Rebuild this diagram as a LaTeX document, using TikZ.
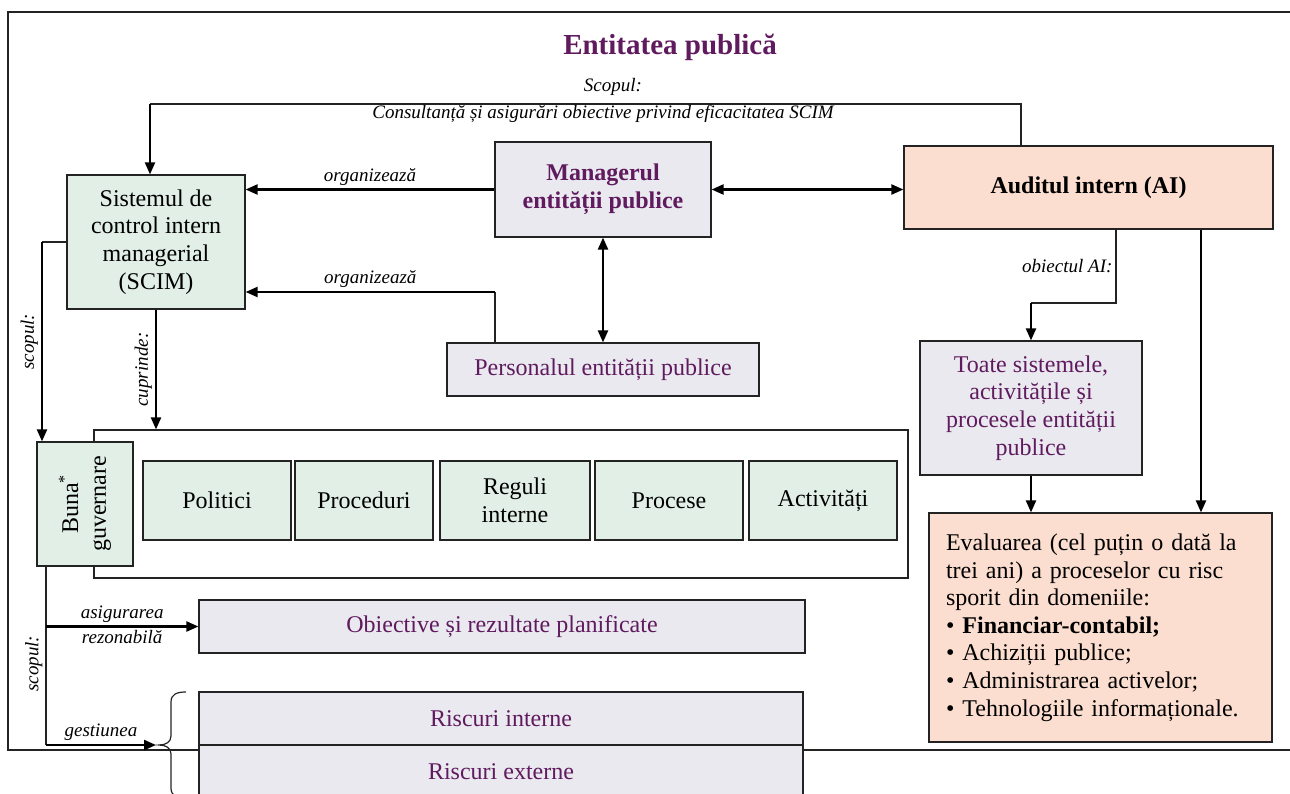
\documentclass[tikz,border=0pt]{standalone}
\usepackage{fontspec}
\setmainfont{Liberation Serif}
\usetikzlibrary{arrows.meta}

\definecolor{purpletxt}{RGB}{96,26,94}
\definecolor{greenfill}{RGB}{225,239,230}
\definecolor{greyfill}{RGB}{233,233,239}
\definecolor{peachfill}{RGB}{251,222,207}
\definecolor{edge}{RGB}{35,35,35}

\tikzset{every picture/.style={line width=0.5pt}}
\tikzset{
  box/.style={draw=edge, line width=0.6pt, inner sep=2pt, align=center, font=\fontsize{12}{13.8}\selectfont},
  greenbox/.style={box, fill=greenfill},
  greybox/.style={box, fill=greyfill, text=purpletxt},
  peachbox/.style={box, fill=peachfill},
  boldtxt/.style={font=\fontsize{12}{13.8}\selectfont\bfseries},
  lbl/.style={font=\fontsize{9.5}{11}\selectfont\itshape, inner sep=1.5pt},
  thinln/.style={draw=edge, line width=0.6pt},
  arr/.style={line width=1.1pt, -{Triangle[length=6pt,width=5pt]}},
  arrboth/.style={line width=1.1pt, {Triangle[length=6pt,width=5pt]}-{Triangle[length=6pt,width=5pt]}},
}

\begin{document}
\begin{tikzpicture}[x=0.5pt,y=0.5pt,yscale=-1,xscale=1]
\useasboundingbox (0,0) rectangle (1290,793);
\clip (0,0) rectangle (1290,793);

%Shape: Frame
\draw [thinln] (1295,12) -- (8,12) -- (8,750) -- (1295,750) ;

% Text Node
\node [font=\fontsize{14.5}{17}\selectfont\bfseries, text=purpletxt] (title) at (670,47) {Entitatea publică};

%Shape: Rectangle
\node [greenbox, minimum width=89pt, minimum height=67pt] (scim) at (156,242) {Sistemul de\\control intern\\managerial\\(SCIM)};
%Shape: Rectangle
\node [greybox, boldtxt, minimum width=108pt, minimum height=47.5pt] (mgr) at (603,189.5) {Managerul\\entității publice};
%Shape: Rectangle
\node [peachbox, boldtxt, minimum width=184.5pt, minimum height=41.5pt] (ai) at (1088.5,187.5) {Auditul intern (AI)};
%Shape: Rectangle
\node [greybox, minimum width=156pt, minimum height=26.5pt] (pers) at (603,369.5) {Personalul entității publice};
%Shape: Rectangle
\node [greybox, minimum width=111pt, minimum height=67pt] (toate) at (1031,408) {Toate sistemele,\\activitățile și\\procesele entității\\publice};
%Shape: Rectangle
\node [peachbox, align=left, text width=154.5pt, inner xsep=8.5pt, minimum height=114.5pt] (eval) at (1100.5,627.5) {Evaluarea (cel puțin o dată la\\trei ani) a proceselor cu risc\\sporit din domeniile:\\• \textbf{Financiar-contabil;}\\• Achiziții publice;\\• Administrarea activelor;\\• Tehnologiile informaționale.};

%Shape: Rectangle (container)
\node [draw=edge, line width=0.6pt, minimum width=407pt, minimum height=74pt] (cont) at (501,504) {};
%Shape: Rectangle
\node [greenbox, minimum width=48pt, minimum height=62pt] (buna) at (85,504) {};
\node [rotate=90, align=center, inner sep=0pt, font=\fontsize{12}{13.8}\selectfont] (bunatxt) at (buna.center) {Buna\textsuperscript{*}\\guvernare};
%Shape: Rectangle
\node [greenbox, minimum width=74pt, minimum height=39.5pt] (politici) at (217,500.5) {Politici};
\node [greenbox, minimum width=69pt, minimum height=39.5pt] (proceduri) at (364,500.5) {Proceduri};
\node [greenbox, minimum width=75pt, minimum height=39.5pt] (reguli) at (515,500.5) {Reguli\\interne};
\node [greenbox, minimum width=74pt, minimum height=39.5pt] (procese) at (669,500.5) {Procese};
\node [greenbox, minimum width=74pt, minimum height=39.5pt] (activ) at (823,500.5) {Activități};

%Shape: Rectangle
\node [greybox, minimum width=303pt, minimum height=26.5pt] (obj) at (502,626.5) {Obiective și rezultate planificate};
\node [greybox, minimum width=302pt, minimum height=26.5pt] (rint) at (501,718.5) {Riscuri interne};
\node [greybox, minimum width=302pt, minimum height=26.5pt] (rext) at (501,771.5) {Riscuri externe};

%Shape: Brace
\draw [thinln] (186,692) .. controls (177,692) and (171,694) .. (171,702) -- (171,736) .. controls (171,742) and (166,745) .. (159,745) .. controls (166,745) and (171,748) .. (171,754) -- (171,788) .. controls (171,796) and (177,798) .. (186,798) ;

% Connectors
\coordinate (topr) at (1021,104);
\coordinate (topl) at (150,104);
\draw [thinln] (ai.north -| topr) -- (topr) -- (topl) ;
\draw [arr] (topl) -- (topl |- scim.north) ;
\node [lbl] (scopl) at (613,87) {Scopul:};
\node [lbl] (consl) at (603,114) {Consultanță și asigurări obiective privind eficacitatea SCIM};

\draw [arr] (mgr.west) -- (scim.east |- mgr.west) node [lbl, midway, above] {organizează};
\coordinate (porg) at (495,292);
\draw [thinln] (pers.north -| porg) -- (porg) ;
\draw [arr] (porg) -- (scim.east |- porg) node [lbl, midway, above] {organizează};

\draw [arrboth] (mgr.east) -- (ai.west |- mgr.east) ;
\draw [arrboth] (mgr.south) -- (pers.north) ;

\coordinate (sleft) at (42,242);
\draw [thinln] (scim.west) -- (sleft) ;
\draw [arr] (sleft) -- (sleft |- buna.north) node [lbl, midway, rotate=90, above] {scopul:};
\draw [arr] (scim.south) -- (scim.south |- cont.north) node [lbl, midway, rotate=90, above] {cuprinde:};

\coordinate (gest) at (46,745);
\coordinate (brtip) at (156,745);
\draw [thinln] (buna.south -| gest) -- (gest) node [lbl, midway, rotate=90, above, xshift=-4pt] {scopul:};
\draw [arr] (gest |- obj.west) -- (obj.west) node [lbl, midway, above] {asigurarea} node [lbl, midway, below] {rezonabilă};
\draw [arr] (gest) -- (brtip) node [lbl, midway, above] {gestiunea};

\coordinate (obk) at (1116,303);
\draw [thinln] (ai.south -| obk) -- (obk) node [lbl, midway, left] {obiectul AI:} -- (obk -| toate.north) ;
\draw [arr] (obk -| toate.north) -- (toate.north) ;
\draw [arr] (toate.south) -- (toate.south |- eval.north) ;
\coordinate (aright) at (1201,229);
\draw [arr] (ai.south -| aright) -- (aright |- eval.north) ;

\end{tikzpicture}
\end{document}
